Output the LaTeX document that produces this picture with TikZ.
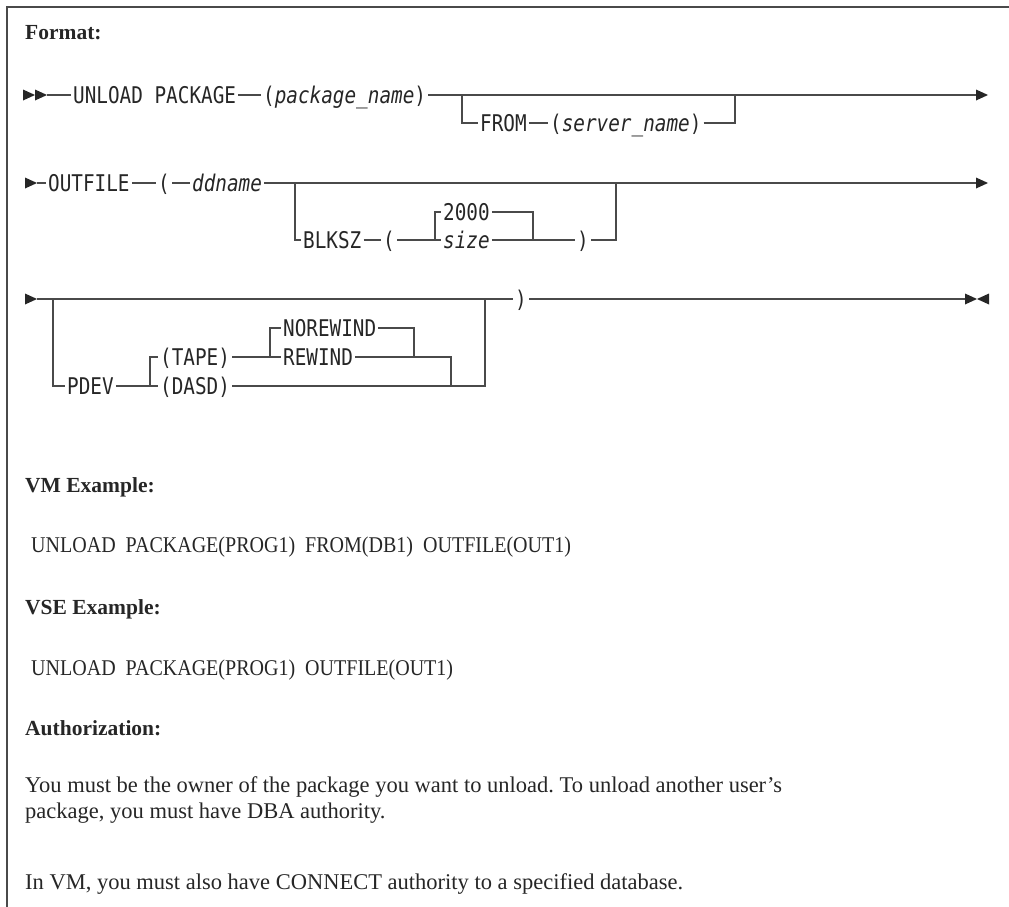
\documentclass[tikz,border=0pt]{standalone}
\usepackage{fontspec}
\setmainfont{Liberation Serif}
\newfontfamily\railfont[FakeStretch=0.84, ItalicFont={DejaVu Sans Mono Oblique}]{DejaVu Sans Mono}
\newfontfamily\cmdfont[FakeStretch=0.89]{Liberation Serif}
\usetikzlibrary{positioning}
\frenchspacing

\definecolor{railgray}{HTML}{4A4A4A}
\definecolor{inkgray}{HTML}{262626}

\tikzset{
  rail/.style={draw=railgray, line width=1.3pt},
  frame/.style={draw=railgray, line width=1.4pt},
  kw/.style={font=\fontsize{23}{27}\selectfont\railfont, text=inkgray, anchor=west,
    inner xsep=2pt, inner ysep=0pt, text height=16.5pt, text depth=0pt},
  head/.style={font=\fontsize{21.5}{25}\selectfont\bfseries, text=inkgray, anchor=west,
    inner sep=0pt, text height=14pt, text depth=0pt},
  body/.style={head, font=\fontsize{22.5}{26}\selectfont},
  cmd/.style={head, font=\fontsize{22.5}{26}\selectfont\cmdfont},
  pics/rtip/.style={code={\fill[inkgray] (0,-5.5) -- (12,0) -- (0,5.5) -- cycle;}},
  pics/ltip/.style={code={\fill[inkgray] (12,-5.5) -- (0,0) -- (12,5.5) -- cycle;}},
}

\begin{document}
\begin{tikzpicture}[x=1pt, y=-1pt]
    \useasboundingbox (0,0) rectangle (1009,907);
    \draw[frame] (7,907) -- (7,7) -- (1009,7);

    \node[head] (fmt) at (25,33) {Format:};

    % first line: UNLOAD PACKAGE
    \pic at (23,95) {rtip};
    \pic at (35,95) {rtip};
    \coordinate (r1s) at (47,95);
    \coordinate (r1e) at (976,95);
    \node[kw] (unload) at (71,95) {UNLOAD PACKAGE};
    \node[kw] (pkgname) at (261,95) {(\textit{package\_name})};
    \node[kw] (from) at (478,123) {FROM};
    \node[kw] (server) at (548,123) {(\textit{server\_name})};
    \coordinate (b1) at (462,95);
    \coordinate (j1) at (735,95);
    \draw[rail] (r1s) -- (unload.west);
    \draw[rail] (unload.east) -- (pkgname.west);
    \draw[rail] (pkgname.east) -- (r1e);
    \draw[rail] (b1) |- (from.west);
    \draw[rail] (from.east) -- (server.west);
    \draw[rail] (server.east) -| (j1);
    \pic at (r1e) {rtip};

    % second line: OUTFILE
    \pic at (25,183) {rtip};
    \coordinate (r2s) at (37,183);
    \coordinate (r2e) at (976,183);
    \node[kw] (outfile) at (46,183) {OUTFILE};
    \node[kw] (lpar2) at (156,183) {(};
    \node[kw] (ddname) at (190,183) {\textit{ddname}};
    \node[kw] (blksz) at (301,240) {BLKSZ};
    \node[kw] (lpar3) at (381,240) {(};
    \node[kw] (dflt) at (441,212) {2000};
    \node[kw] (size) at (441,240) {\textit{size}};
    \node[kw] (rpar2) at (575,240) {)};
    \coordinate (b2) at (295,183);
    \coordinate (b3) at (435,240);
    \coordinate (j2) at (533,240);
    \coordinate (j3) at (616,183);
    \draw[rail] (r2s) -- (outfile.west);
    \draw[rail] (outfile.east) -- (lpar2.west);
    \draw[rail] (lpar2.east) -- (ddname.west);
    \draw[rail] (ddname.east) -- (r2e);
    \draw[rail] (b2) |- (blksz.west);
    \draw[rail] (blksz.east) -- (lpar3.west);
    \draw[rail] (lpar3.east) -- (size.west);
    \draw[rail] (b3) |- (dflt.west);
    \draw[rail] (dflt.east) -| (j2);
    \draw[rail] (size.east) -- (rpar2.west);
    \draw[rail] (rpar2.east) -| (j3);
    \pic at (r2e) {rtip};

    % third line: PDEV and closing parenthesis
    \pic at (25,299) {rtip};
    \coordinate (r3s) at (37,299);
    \coordinate (r3e) at (965,299);
    \node[kw] (rpar3) at (513,299) {)};
    \node[kw] (pdev) at (65,386) {PDEV};
    \node[kw] (tape) at (158,357) {(TAPE)};
    \node[kw] (dasd) at (158,386) {(DASD)};
    \node[kw] (norew) at (281,328) {NOREWIND};
    \node[kw] (rew) at (281,357) {REWIND};
    \coordinate (b4) at (53,299);
    \coordinate (b5) at (150,386);
    \coordinate (b6) at (270,357);
    \coordinate (j4) at (414,357);
    \coordinate (j5) at (451,386);
    \coordinate (j6) at (485,299);
    \draw[rail] (r3s) -- (rpar3.west);
    \draw[rail] (rpar3.east) -- (r3e);
    \draw[rail] (b4) |- (pdev.west);
    \draw[rail] (pdev.east) -- (dasd.west);
    \draw[rail] (b5) |- (tape.west);
    \draw[rail] (tape.east) -- (rew.west);
    \draw[rail] (b6) |- (norew.west);
    \draw[rail] (norew.east) -| (j4);
    \draw[rail] (rew.east) -| (j5);
    \draw[rail] (dasd.east) -| (j6);
    \pic at (r3e) {rtip};
    \pic at (977,299) {ltip};

    % examples and authorization
    \node[head] (vmex) at (25,485) {VM Example:};
    \node[cmd] (vmcmd) at (31,545) {UNLOAD\ \ PACKAGE(PROG1)\ \ FROM(DB1)\ \ OUTFILE(OUT1)};
    \node[head] (vseex) at (25,607) {VSE Example:};
    \node[cmd] (vsecmd) at (31,668) {UNLOAD\ \ PACKAGE(PROG1)\ \ OUTFILE(OUT1)};
    \node[head] (auth) at (25,728) {Authorization:};
    \node[body] (own1) at (25,785) {You must be the owner of the package you want to unload. To unload another user’s};
    \node[body] (own2) at (25,811) {package, you must have DBA authority.};
    \node[body] (conn) at (25,882) {In VM, you must also have CONNECT authority to a specified database.};
\end{tikzpicture}
\end{document}
